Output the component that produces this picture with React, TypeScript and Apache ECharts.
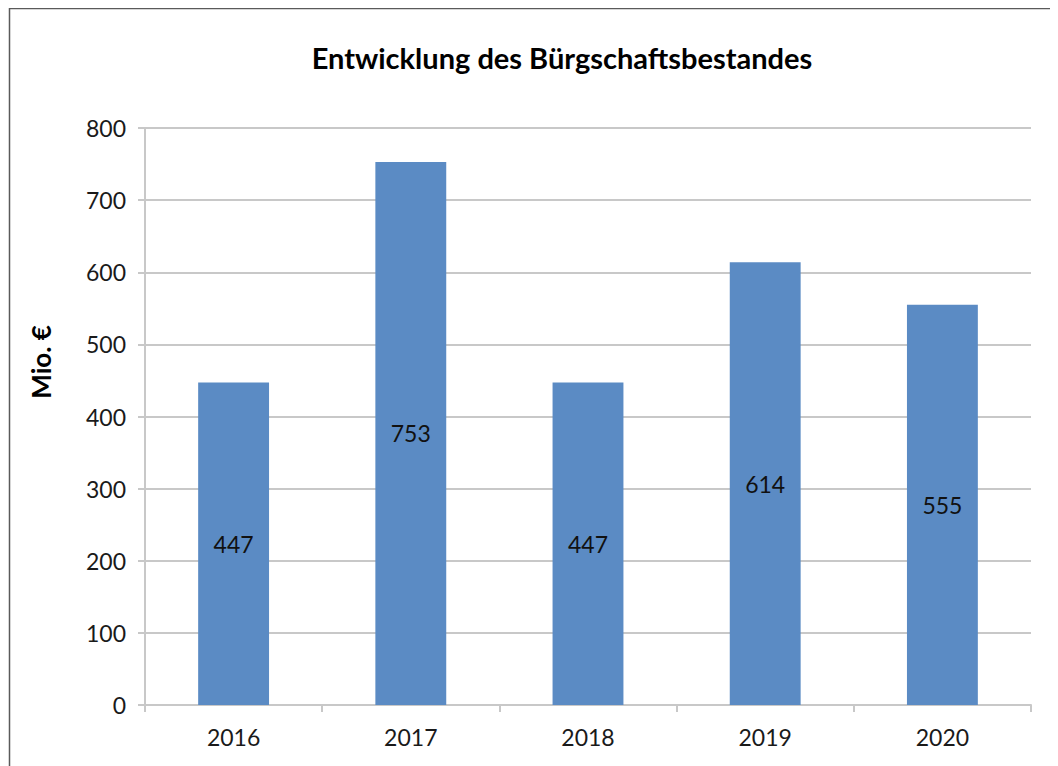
import React, { useEffect, useRef } from "react";
import * as echarts from "echarts";

const title = "Entwicklung des Bürgschaftsbestandes";
const yAxisName = "Mio. €";
const categories = ["2016", "2017", "2018", "2019", "2020"];
const values = [447, 753, 447, 614, 555];
const yTicks = { min: 0, max: 800, interval: 100 };

const FONT = "Lato, 'Open Sans', sans-serif";

export default function App() {
  const ref = useRef<HTMLDivElement>(null);
  useEffect(() => {
    if (!ref.current) return;
    const chart = echarts.init(ref.current, null, { renderer: "svg" });
    chart.setOption({
      animation: false,
      backgroundColor: "#ffffff",
      title: {
        text: title,
        left: 549,
        top: 30,
        textAlign: "center",
        textStyle: { fontFamily: FONT, fontWeight: "bold", fontSize: 29, color: "#000000" },
      },
      graphic: [
        {
          type: "rect",
          shape: { x: 1.5, y: 0.5, width: 1100, height: 1000 },
          style: { fill: "none", stroke: "#5a5a5a", lineWidth: 1.5 },
          silent: true,
        },
        {
          type: "text",
          x: 33,
          y: 354,
          rotation: Math.PI / 2,
          style: {
            text: yAxisName,
            fontFamily: FONT,
            fontWeight: "bold",
            fontSize: 26,
            fill: "#000000",
            align: "center",
            verticalAlign: "middle",
          },
          silent: true,
        },
      ],
      grid: { left: 137, right: 27, top: 120, bottom: 61 },
      xAxis: {
        type: "category",
        data: categories,
        axisLine: { show: true, lineStyle: { color: "#c8c8c8", width: 2 } },
        axisTick: { show: true, alignWithLabel: false, length: 7, lineStyle: { color: "#c8c8c8", width: 2 } },
        axisLabel: { fontFamily: FONT, fontSize: 23, color: "#1a1a1a", margin: 20 },
      },
      yAxis: {
        type: "value",
        min: yTicks.min,
        max: yTicks.max,
        interval: yTicks.interval,
        axisLine: { show: true, lineStyle: { color: "#c8c8c8", width: 2 } },
        axisTick: { show: true, length: 7, lineStyle: { color: "#c8c8c8", width: 2 } },
        axisLabel: { fontFamily: FONT, fontSize: 23, color: "#1a1a1a", margin: 19 },
        splitLine: { show: true, lineStyle: { color: "#c8c8c8", width: 2 } },
      },
      series: [
        {
          type: "bar",
          data: values,
          barWidth: "40%",
          itemStyle: { color: "#5b8bc4" },
          label: {
            show: true,
            position: "inside",
            fontFamily: FONT,
            fontSize: 23,
            color: "#111111",
          },
        },
      ],
    });
    return () => chart.dispose();
  }, []);
  return <div ref={ref} style={{ width: 1050, height: 758 }} />;
}
